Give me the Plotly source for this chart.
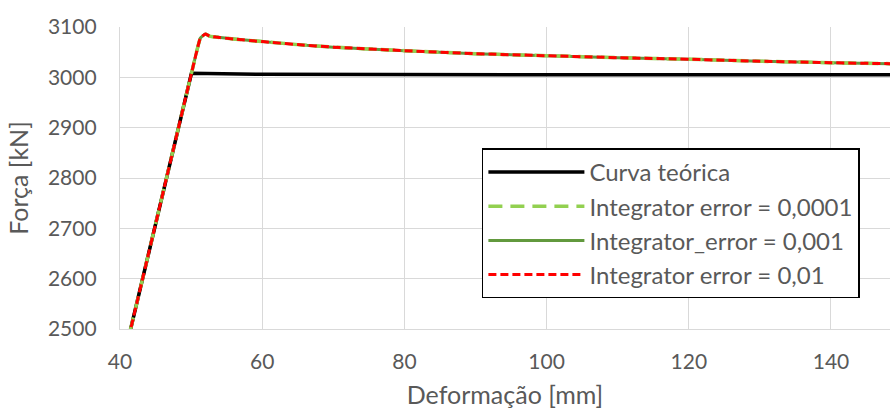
import plotly.graph_objects as go

# Theoretical force-displacement curve (bilinear)
x_teorica = [40.0, 41.5, 50.05, 60.0, 80.0, 100.0, 120.0, 140.0, 149.0]
y_teorica = [2411, 2500, 3008, 3006, 3005, 3005, 3005, 3005, 3005]

# Numerical results for different integrator tolerances
x_num = [40.0, 41.5, 50.05, 51.3, 52.0, 52.6, 53.5, 56.0, 60.0, 65.0, 70.0,
         80.0, 90.0, 100.0, 110.0, 120.0, 130.0, 140.0, 149.0]
y_err_0001 = [2411, 2500, 3008, 3078, 3086, 3082, 3080, 3076, 3071, 3065, 3060,
              3053, 3047, 3043, 3039, 3036, 3032, 3029, 3027]
y_err_001 = [2411, 2500, 3008, 3078, 3086, 3082, 3080, 3076, 3071, 3065, 3060,
             3053, 3047, 3043, 3039, 3036, 3032, 3029, 3027]
y_err_01 = [2411, 2500, 3008, 3078, 3086, 3082, 3080, 3076, 3071, 3065, 3060,
            3053, 3047, 3043, 3039, 3036, 3032, 3029, 3027]

x_ticks = [40, 60, 80, 100, 120, 140]
y_ticks = [2500, 2600, 2700, 2800, 2900, 3000, 3100]

FONT = "Lato"
TXT = "#595959"
GRID = "#d9d9d9"

fig = go.Figure()
fig.add_trace(go.Scatter(x=x_num, y=y_err_001, mode="lines",
                         name="Integrator_error = 0,001", legendrank=3, legendgroup="c",
                         line=dict(color="#62993e", width=3, shape="spline", smoothing=0.3)))
fig.add_trace(go.Scatter(x=x_teorica, y=y_teorica, mode="lines",
                         name="Curva teórica", legendrank=1, legendgroup="a",
                         line=dict(color="#000000", width=3.5)))
fig.add_trace(go.Scatter(x=x_num, y=y_err_0001, mode="lines",
                         name="Integrator error = 0,0001", legendrank=2, legendgroup="b",
                         line=dict(color="#92d050", width=3.5, dash="14px,8px",
                                   shape="spline", smoothing=0.3)))
fig.add_trace(go.Scatter(x=x_num, y=y_err_01, mode="lines",
                         name="Integrator error = 0,01", legendrank=4, legendgroup="d",
                         line=dict(color="#ff0000", width=3, dash="8px,4px",
                                   shape="spline", smoothing=0.3)))

fig.update_layout(
    width=890, height=409,
    margin=dict(l=120, r=0, t=27, b=80),
    paper_bgcolor="white", plot_bgcolor="white",
    font=dict(family=FONT, size=21, color=TXT),
    showlegend=True,
    legend=dict(x=0.47, y=0.598, xanchor="left", yanchor="top",
                bgcolor="white", bordercolor="black", borderwidth=1.5,
                font=dict(family=FONT, size=24, color=TXT),
                tracegroupgap=0, itemwidth=96),
    xaxis=dict(range=[40, 148.3], tickvals=x_ticks, showgrid=True, gridcolor=GRID,
               gridwidth=1.3, zeroline=False, showline=True, linecolor=GRID, linewidth=1.3,
               ticks="", ticklabelstandoff=14,
               title=dict(text="Deformação [mm]", standoff=16,
                          font=dict(family=FONT, size=25, color=TXT))),
    yaxis=dict(range=[2500, 3100], tickvals=y_ticks, showgrid=True, gridcolor=GRID,
               gridwidth=1.3, zeroline=False, showline=True, linecolor=GRID, linewidth=1.3,
               ticks="", ticklabelstandoff=18,
               title=dict(text="Força [kN]", standoff=12,
                          font=dict(family=FONT, size=25, color=TXT))),
)

fig.write_html("out.html")
